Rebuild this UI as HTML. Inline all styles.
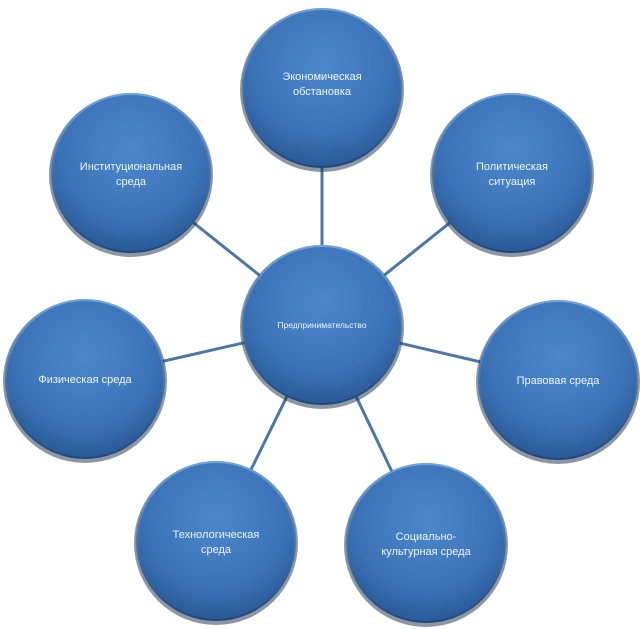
<!DOCTYPE html>
<html><head><meta charset="utf-8"><style>
html,body{margin:0;padding:0;background:#fff;}
svg{display:block}
text{font-family:"Liberation Sans","DejaVu Sans",sans-serif;fill:#eef4ff;text-anchor:middle;font-size:11px;}
</style></head><body>
<svg width="643" height="629" viewBox="0 0 643 629">
<defs>
<radialGradient id="g" cx="50%" cy="35%" r="65%">
<stop offset="0" stop-color="#4d88cc"/>
<stop offset="0.7" stop-color="#3b72b6"/>
<stop offset="1" stop-color="#2a5a98"/>
</radialGradient>
<linearGradient id="rim" x1="0" y1="0" x2="0" y2="1">
<stop offset="0" stop-color="#6fa4e0"/>
<stop offset="1" stop-color="#1f4677"/>
</linearGradient>
</defs>
<g stroke="#4a77aa" stroke-width="3">
<line x1="322" y1="325" x2="322" y2="88"/>
<line x1="322" y1="325" x2="131" y2="173"/>
<line x1="322" y1="325" x2="512" y2="173"/>
<line x1="322" y1="325" x2="85" y2="379"/>
<line x1="322" y1="325" x2="558" y2="380"/>
<line x1="322" y1="325" x2="216" y2="541"/>
<line x1="322" y1="325" x2="426" y2="543"/>
</g>
<g>
<g transform="translate(322,88)"><circle r="82" cy="2" fill="#1c2f4a" opacity="0.5"/><circle r="80" fill="url(#rim)"/><circle r="78" fill="url(#g)"/></g>
<g transform="translate(131,173)"><circle r="82" cy="2" fill="#1c2f4a" opacity="0.5"/><circle r="80" fill="url(#rim)"/><circle r="78" fill="url(#g)"/></g>
<g transform="translate(512,173)"><circle r="82" cy="2" fill="#1c2f4a" opacity="0.5"/><circle r="80" fill="url(#rim)"/><circle r="78" fill="url(#g)"/></g>
<g transform="translate(85,379)"><circle r="82" cy="2" fill="#1c2f4a" opacity="0.5"/><circle r="80" fill="url(#rim)"/><circle r="78" fill="url(#g)"/></g>
<g transform="translate(558,380)"><circle r="82" cy="2" fill="#1c2f4a" opacity="0.5"/><circle r="80" fill="url(#rim)"/><circle r="78" fill="url(#g)"/></g>
<g transform="translate(216,541)"><circle r="82" cy="2" fill="#1c2f4a" opacity="0.5"/><circle r="80" fill="url(#rim)"/><circle r="78" fill="url(#g)"/></g>
<g transform="translate(426,543)"><circle r="82" cy="2" fill="#1c2f4a" opacity="0.5"/><circle r="80" fill="url(#rim)"/><circle r="78" fill="url(#g)"/></g>
<g transform="translate(322,325)"><circle r="82" cy="2" fill="#1c2f4a" opacity="0.5"/><circle r="80" fill="url(#rim)"/><circle r="78" fill="url(#g)"/></g>
</g>
<text x="322" y="80">Экономическая</text>
<text x="322" y="95">обстановка</text>
<text x="131" y="170">Институциональная</text>
<text x="131" y="185">среда</text>
<text x="512" y="170">Политическая</text>
<text x="512" y="185">ситуация</text>
<text x="85" y="383">Физическая среда</text>
<text x="558" y="384">Правовая среда</text>
<text x="216" y="538">Технологическая</text>
<text x="216" y="553">среда</text>
<text x="426" y="540">Социально-</text>
<text x="426" y="555">культурная среда</text>
<text x="322" y="328" style="font-size:8.5px">Предпринимательство</text>
</svg>
</body></html>
